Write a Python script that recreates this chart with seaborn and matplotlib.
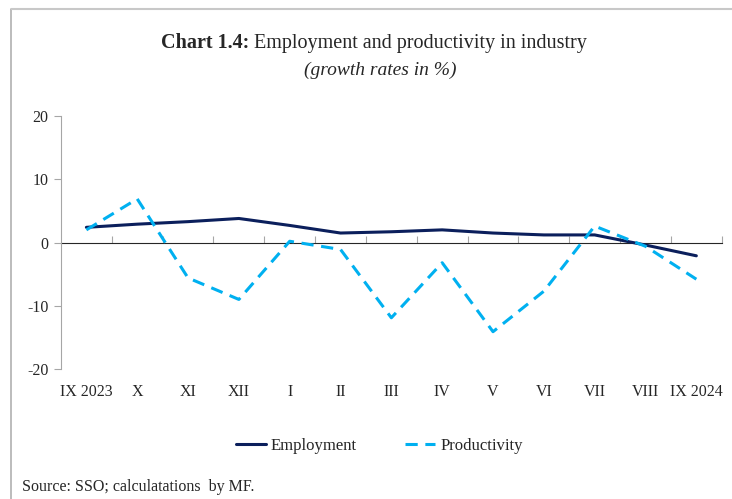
import seaborn as sns
import matplotlib.pyplot as plt
import matplotlib.lines as mlines
import pandas as pd

months = ['IX 2023', 'X', 'XI', 'XII', 'I', 'II', 'III', 'IV', 'V', 'VI', 'VII', 'VIII', 'IX 2024']
employment = [2.4, 2.9, 3.3, 3.8, 2.7, 1.5, 1.7, 2.0, 1.5, 1.2, 1.2, -0.4, -2.1]
productivity = [2.0, 6.9, -5.6, -9.0, 0.2, -1.1, -11.9, -3.2, -14.1, -7.7, 2.6, -0.6, -5.8]

df = pd.DataFrame({'month': months, 'Employment': employment, 'Productivity': productivity})
long_df = df.melt(id_vars='month', var_name='series', value_name='value')

sns.set_style('white')
plt.rcParams['font.family'] = ['Liberation Serif', 'DejaVu Serif']
plt.rcParams['axes.unicode_minus'] = False

fig = plt.figure(figsize=(7.32, 4.99), dpi=100)
ax = fig.add_axes([0.0833, 0.2605, 0.9027, 0.507])

colors = {'Employment': '#0b1f5c', 'Productivity': '#00b0f0'}
sns.lineplot(data=long_df, x='month', y='value', hue='series', style='series',
             palette=colors, dashes={'Employment': '', 'Productivity': (4, 2.5)},
             linewidth=2.2, sort=False, legend=False, ax=ax)

n = len(months)
ax.set_xlim(-0.5, n - 0.5)
ax.set_ylim(-20, 20)
ax.set_yticks([-20, -10, 0, 10, 20])
ax.set_xlabel('')
ax.set_ylabel('')

for s in ['top', 'right', 'bottom']:
    ax.spines[s].set_visible(False)
ax.spines['left'].set_color('#a6a6a6')
ax.tick_params(axis='y', left=True, length=5, color='#a6a6a6', labelsize=11.5, pad=4)
ax.tick_params(axis='x', bottom=False, labelsize=11.5, pad=7)

# zero line with tick marks between categories
sec = ax.secondary_xaxis(0.5)
sec.spines['bottom'].set_color('#a6a6a6')
sec.set_xticks([i + 0.5 for i in range(n)])
sec.set_xticklabels([])
sec.tick_params(axis='x', length=5, color='#a6a6a6')

fig.text(0.22, 0.913, 'Chart 1.4:', ha='left', va='center', fontsize=14.5, fontweight='bold')
fig.text(0.347, 0.913, 'Employment and productivity in industry', ha='left', va='center', fontsize=14.5)
fig.text(0.52, 0.86, '(growth rates in %)', ha='center', va='center', fontsize=14, style='italic')

h1 = mlines.Line2D([], [], color=colors['Employment'], lw=2.2)
h2 = mlines.Line2D([], [], color=colors['Productivity'], lw=2.2, dashes=(4, 2.5))
fig.legend([h1, h2], ['Employment', 'Productivity'], loc='center', bbox_to_anchor=(0.518, 0.106),
           ncol=2, frameon=False, fontsize=12, handlelength=1.8, handletextpad=0.3, columnspacing=2.9)

fig.text(0.03, 0.024, 'Source: SSO; calculatations  by MF.', ha='left', va='center', fontsize=11.5)

# document frame
fig.add_artist(mlines.Line2D([0.015, 0.015], [0, 0.982], color='#b0b0b0', lw=1.2))
fig.add_artist(mlines.Line2D([0.015, 1.0], [0.982, 0.982], color='#c8c8c8', lw=1.5,
                             solid_capstyle='butt'))

fig.savefig('out.png', dpi=100)
